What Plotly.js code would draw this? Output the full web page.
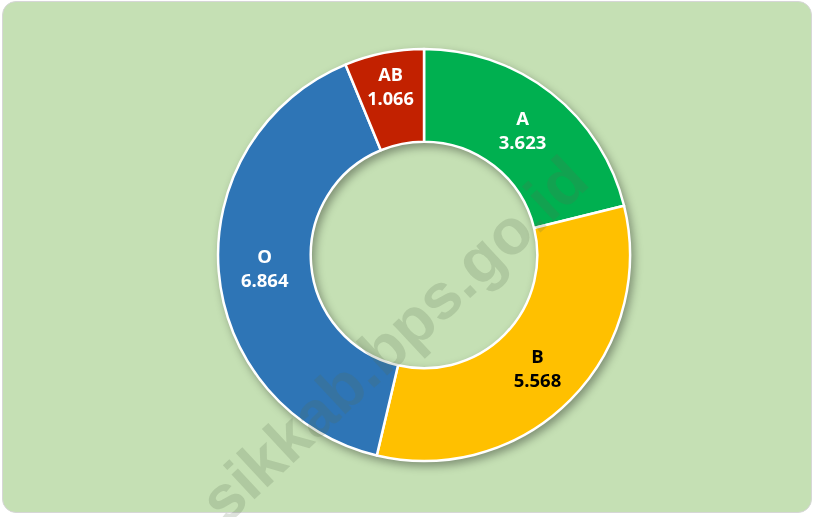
<!DOCTYPE html>
<html>
<head>
<meta charset="utf-8">
<script src="https://cdn.plot.ly/plotly-3.0.1.min.js"></script>
<style>
html,body{margin:0;padding:0;background:#ffffff;width:816px;height:517px;overflow:hidden;}
#frame{position:absolute;left:2px;top:1px;width:810px;height:512px;background:#c5e0b4;border:1px solid #d6d6d6;border-radius:14px;box-sizing:border-box;}
#chart{position:absolute;left:0;top:0;width:816px;height:517px;}
#chart .pielayer{filter:drop-shadow(3px 4px 4px rgba(0,0,0,0.35));}
</style>
</head>
<body>
<div id="frame"></div>
<div id="chart"></div>
<script>
const labels = ["A", "B", "O", "AB"];
const values = [3623, 5568, 6864, 1066];
const colors = ["#00b050", "#ffc000", "#2e75b6", "#c22100"];
const textColors = ["#ffffff", "#000000", "#ffffff", "#ffffff"];
const watermark = "sikkab.bps.go.id";

const trace = {
  type: "pie",
  labels: labels,
  values: values,
  hole: 0.55,
  sort: false,
  direction: "clockwise",
  rotation: 0,
  marker: {colors: colors, line: {color: "#ffffff", width: 2.5}},
  texttemplate: "<b>%{label}</b><br><b>%{value:,}</b>",
  textposition: "inside",
  insidetextorientation: "horizontal",
  textfont: {family: "Open Sans, Liberation Sans, sans-serif", size: 18.5, color: textColors},
  domain: {x: [0.2672, 0.7721], y: [0.1083, 0.9052]},
  showlegend: false,
  hoverinfo: "label+value"
};

const layout = {
  width: 816,
  height: 517,
  margin: {l: 0, r: 0, t: 0, b: 0},
  paper_bgcolor: "rgba(0,0,0,0)",
  plot_bgcolor: "rgba(0,0,0,0)",
  separators: ",.",
  showlegend: false,
  annotations: [{
    text: "<b>" + watermark + "</b>",
    x: 393 / 816, y: 1 - 340 / 517,
    xref: "paper", yref: "paper",
    showarrow: false,
    textangle: -43,
    font: {family: "Liberation Sans, Arial, sans-serif", size: 64, color: "rgba(90,110,80,0.2)"}
  }]
};

Plotly.newPlot("chart", [trace], layout, {displayModeBar: false, staticPlot: true});
</script>
</body>
</html>
